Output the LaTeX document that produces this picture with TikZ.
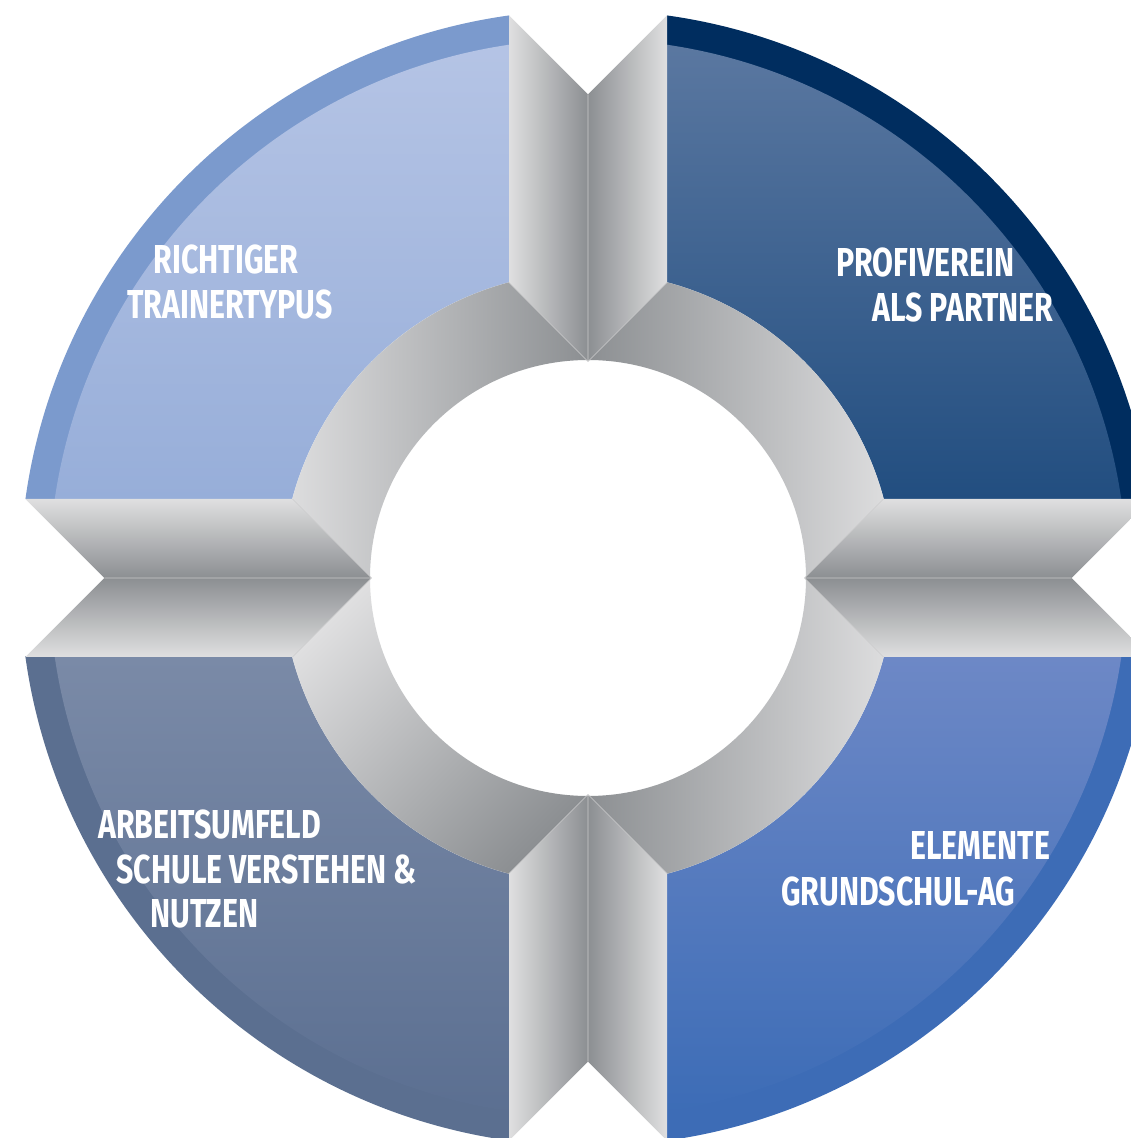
\documentclass[tikz,border=0pt]{standalone}
\usepackage{fontspec}
\newfontfamily\lblfont{Fira Sans}[FakeStretch=0.75]
\usepackage{tikz}
\definecolor{tlband}{HTML}{7B9ACD}
\definecolor{tltop}{HTML}{B5C4E5}
\definecolor{tlbot}{HTML}{97AED9}
\definecolor{trband}{HTML}{002D5F}
\definecolor{trtop}{HTML}{5B78A1}
\definecolor{trbot}{HTML}{224E80}
\definecolor{blband}{HTML}{5B6F90}
\definecolor{bltop}{HTML}{7A8AA7}
\definecolor{blbot}{HTML}{5B6F91}
\definecolor{brband}{HTML}{3D6CB6}
\definecolor{brtop}{HTML}{6D88C6}
\definecolor{brbot}{HTML}{3C6CB6}
\definecolor{greylight}{HTML}{DFDFE0}
\definecolor{greydark}{HTML}{8C8F92}
\tikzstyle{lbl} = [text=white, inner sep=0pt, font={\lblfont\bfseries\fontsize{23}{25}\selectfont}]
\tikzstyle{fold} = [draw=greylight!80!gray, line width=0.3pt]

\begin{document}
\begin{tikzpicture}[x=0.02cm, y=0.02cm]
\clip (-588,-560) rectangle (543,578);

% coloured quadrants with outer band
\begin{scope}
  \clip (-79,79) rectangle (-600,600);
  \fill[tlband] (0,0) circle (568);
  \clip (0,0) circle (539);
  \shade[top color=tltop, bottom color=tlbot] (-539,79) rectangle (-79,539);
\end{scope}
\begin{scope}
  \clip (79,79) rectangle (600,600);
  \fill[trband] (0,0) circle (568);
  \clip (0,0) circle (539);
  \shade[top color=trtop, bottom color=trbot] (79,79) rectangle (539,539);
\end{scope}
\begin{scope}
  \clip (-79,-79) rectangle (-600,-600);
  \fill[blband] (0,0) circle (568);
  \clip (0,0) circle (539);
  \shade[top color=bltop, bottom color=blbot] (-539,-539) rectangle (-79,-79);
\end{scope}
\begin{scope}
  \clip (79,-79) rectangle (600,-600);
  \fill[brband] (0,0) circle (568);
  \clip (0,0) circle (539);
  \shade[top color=brtop, bottom color=brbot] (79,-539) rectangle (539,-79);
\end{scope}
\fill[white] (0,0) circle (306);

% grey ring
\shade[left color=greylight, right color=greydark]
  (0,306) arc[start angle=90, end angle=180, radius=306] -- (-218,0)
  arc[start angle=180, end angle=90, radius=218] -- cycle;
\shade[left color=greydark, right color=greylight]
  (306,0) arc[start angle=0, end angle=90, radius=306] -- (0,218)
  arc[start angle=90, end angle=0, radius=218] -- cycle;
\shade[top color=greylight, bottom color=greydark, shading angle=45]
  (-306,0) arc[start angle=180, end angle=270, radius=306] -- (0,-218)
  arc[start angle=270, end angle=180, radius=218] -- cycle;
\shade[left color=greydark, right color=greylight]
  (0,-306) arc[start angle=270, end angle=360, radius=306] -- (218,0)
  arc[start angle=0, end angle=-90, radius=218] -- cycle;

% chevrons in the gaps
\shade[left color=greylight, right color=greydark] (-79,562.5) -- (0,483.5) -- (0,216.6) -- (-79,295.6) -- cycle;
\shade[left color=greydark, right color=greylight] (0,483.5) -- (79,562.5) -- (79,295.6) -- (0,216.6) -- cycle;
\shade[left color=greylight, right color=greydark] (-79,-562.5) -- (0,-483.5) -- (0,-216.6) -- (-79,-295.6) -- cycle;
\shade[left color=greydark, right color=greylight] (0,-483.5) -- (79,-562.5) -- (79,-295.6) -- (0,-216.6) -- cycle;
\shade[top color=greylight, bottom color=greydark] (-562.5,79) -- (-295.6,79) -- (-216.6,0) -- (-483.5,0) -- cycle;
\shade[top color=greydark, bottom color=greylight] (-483.5,0) -- (-216.6,0) -- (-295.6,-79) -- (-562.5,-79) -- cycle;
\shade[top color=greylight, bottom color=greydark] (562.5,79) -- (295.6,79) -- (216.6,0) -- (483.5,0) -- cycle;
\shade[top color=greydark, bottom color=greylight] (483.5,0) -- (216.6,0) -- (295.6,-79) -- (562.5,-79) -- cycle;
\foreach \a in {0,90,180,270}
  \draw[fold, rotate=\a] (-79,295.6) -- (0,216.6) -- (79,295.6) (0,216.6) -- (0,483.5);

% labels
\node[lbl, anchor=base] (richtig) at (-362,304) {RICHTIGER};
\node[lbl, anchor=base] (trainer) at (-358,259) {TRAINERTYPUS};
\node[lbl, anchor=base west] (profi) at (248,301) {PROFIVEREIN};
\node[lbl, anchor=base west] (partner) at (284,256) {ALS PARTNER};
\node[lbl, anchor=base west] (arbeit) at (-490,-260) {ARBEITSUMFELD};
\node[lbl, anchor=base west] (schule) at (-472,-305) {SCHULE VERSTEHEN \&};
\node[lbl, anchor=base west] (nutzen) at (-438,-349) {NUTZEN};
\node[lbl, anchor=base west] (element) at (322,-281) {ELEMENTE};
\node[lbl, anchor=base west] (grund) at (193,-327) {GRUNDSCHUL-AG};
\end{tikzpicture}
\end{document}
